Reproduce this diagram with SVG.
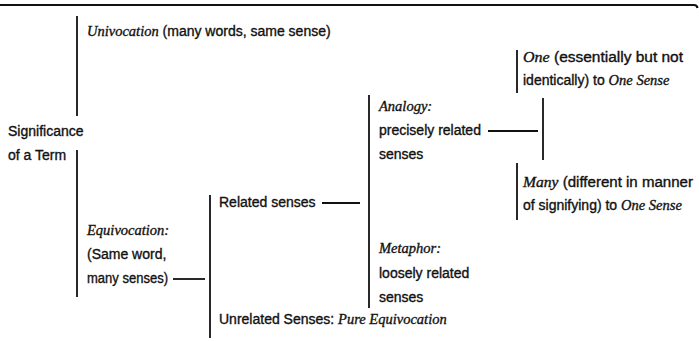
<svg xmlns="http://www.w3.org/2000/svg" width="699" height="341" viewBox="0 0 699 341">
<style>
text{font-family:"Liberation Sans",Arial,sans-serif;font-size:14px;fill:#111;stroke:#111;stroke-width:0.35;}
.i{font-family:"Liberation Serif","Times New Roman",serif;font-style:italic;font-size:14.5px;}
line,path{stroke:#111;stroke-width:1.8;fill:none;}
.rule{stroke-width:2.2;}
</style>
<rect width="699" height="341" fill="#fff"/>
<g id="connectors">
<path class="rule" d="M0 5 H694 Q697 5 697.5 8"/>
<line x1="77" y1="16" x2="77" y2="116"/>
<line x1="77" y1="150" x2="77" y2="297"/>
<line x1="173" y1="279" x2="205" y2="279"/>
<line x1="210" y1="195" x2="210" y2="338"/>
<line x1="322" y1="203" x2="360" y2="203"/>
<line x1="369" y1="95" x2="369" y2="308"/>
<line x1="488" y1="131" x2="538" y2="131"/>
<line x1="543" y1="98" x2="543" y2="160"/>
<line x1="517" y1="50" x2="517" y2="93"/>
<line x1="517" y1="163" x2="517" y2="220"/>
</g>
<g id="root"><text x="8" y="136">Significance</text><text x="8" y="160">of a Term</text></g>
<g id="univocation"><text x="87" y="36"><tspan class="i">Univocation</tspan> (many words, same sense)</text></g>
<g id="equivocation"><text x="87" y="235" class="i">Equivocation:</text><text x="87" y="259">(Same word,</text><text x="87" y="283" textLength="81" lengthAdjust="spacingAndGlyphs">many senses)</text></g>
<g id="related"><text x="219" y="207">Related senses</text></g>
<g id="unrelated"><text x="219" y="324">Unrelated Senses: <tspan class="i">Pure Equivocation</tspan></text></g>
<g id="analogy"><text x="379" y="111" class="i">Analogy:</text><text x="379" y="135">precisely related</text><text x="379" y="159">senses</text></g>
<g id="metaphor"><text x="379" y="253" class="i">Metaphor:</text><text x="379" y="278">loosely related</text><text x="379" y="302">senses</text></g>
<g id="one"><text x="523" y="62" textLength="160" lengthAdjust="spacingAndGlyphs"><tspan class="i">One</tspan> (essentially but not</text><text x="523" y="85">identically) to <tspan class="i">One Sense</tspan></text></g>
<g id="many"><text x="523" y="187" textLength="170" lengthAdjust="spacingAndGlyphs"><tspan class="i">Many</tspan> (different in manner</text><text x="523" y="210">of signifying) to <tspan class="i">One Sense</tspan></text></g>
</svg>
